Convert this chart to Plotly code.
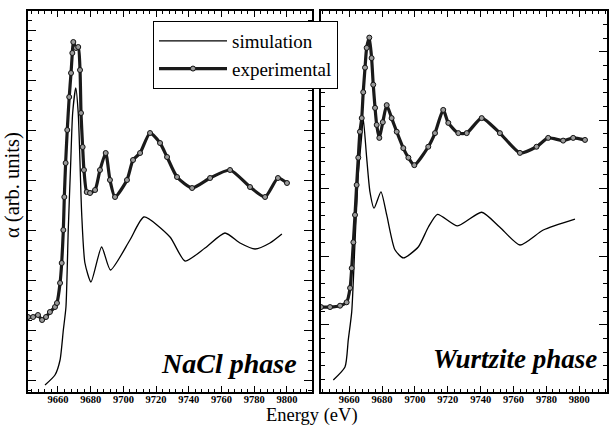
import plotly.graph_objects as go

# ---------------- data (energy in eV, absorption in arb. units) ----------------
nacl_sim_E = [9652.1, 9658.2, 9661.3, 9663.3, 9664.9, 9666.3, 9667.8, 9669.0, 9670.9,
              9672.4, 9673.5, 9674.5, 9676.5, 9680.2, 9686.7, 9692.1, 9704.0, 9712.6,
              9728.5, 9737.7, 9749.9, 9762.1, 9771.3, 9780.5, 9789.6, 9796.9]
nacl_sim_a = [-0.10, 0.10, 0.40, 1.00, 1.46, 3.00, 4.34, 5.34, 5.84,
              5.34, 4.34, 3.34, 2.34, 1.96, 2.66, 2.20, 2.80, 3.26,
              2.86, 2.38, 2.64, 2.94, 2.74, 2.62, 2.74, 2.92]

nacl_exp_E = [9641.7, 9644.8, 9647.8, 9650.3, 9652.7, 9655.1, 9658.2, 9659.4, 9661.3,
              9662.3, 9663.3, 9663.9, 9664.7, 9665.7, 9666.9, 9668.0, 9668.8, 9669.4,
              9671.0, 9672.4, 9673.5, 9674.1, 9675.1, 9675.9, 9677.6, 9679.6, 9682.7,
              9685.7, 9689.2, 9691.8, 9694.9, 9702.2, 9705.9, 9710.2, 9716.3, 9722.4,
              9726.7, 9732.8, 9742.0, 9753.0, 9765.2, 9777.4, 9786.6, 9794.5, 9800.0]
nacl_exp_a = [1.26, 1.26, 1.30, 1.20, 1.26, 1.36, 1.46, 1.54, 1.94,
              2.34, 3.00, 3.66, 4.34, 5.00, 5.66, 6.14, 6.54, 6.76,
              6.64, 6.66, 6.20, 5.34, 4.66, 4.20, 3.76, 3.74, 3.80,
              4.20, 4.54, 4.00, 3.66, 4.00, 4.40, 4.54, 4.94, 4.74,
              4.46, 4.06, 3.84, 4.04, 4.20, 3.86, 3.66, 4.04, 3.94]

wurtz_sim_E = [9650.3, 9657.4, 9659.4, 9661.5, 9663.5, 9665.5, 9667.6, 9668.5, 9670.6,
               9672.6, 9675.1, 9679.3, 9682.8, 9687.8, 9692.9, 9702.0, 9708.1, 9713.7,
               9725.9, 9740.6, 9751.7, 9763.9, 9778.1, 9797.4]
wurtz_sim_a = [0.19, 0.38, 0.78, 1.19, 2.21, 3.20, 3.78, 4.03, 3.45,
               2.95, 2.71, 2.95, 2.61, 2.10, 1.98, 2.14, 2.43, 2.62,
               2.45, 2.65, 2.43, 2.17, 2.39, 2.55]

wurtz_exp_E = [9642.8, 9648.3, 9654.4, 9658.4, 9660.5, 9661.5, 9662.5, 9663.5, 9664.5,
               9665.5, 9666.5, 9667.6, 9668.5, 9669.6, 9670.6, 9672.2, 9673.6, 9674.6,
               9675.7, 9676.7, 9678.3, 9680.4, 9682.8, 9685.8, 9688.9, 9692.9, 9696.0,
               9699.6, 9708.1, 9712.2, 9717.2, 9720.3, 9726.4, 9731.5, 9740.6, 9751.7,
               9763.9, 9774.0, 9781.1, 9790.2, 9796.3, 9803.5]
wurtz_exp_a = [1.26, 1.26, 1.28, 1.33, 1.54, 1.83, 2.21, 2.61, 3.05,
               3.45, 3.83, 4.03, 4.41, 4.77, 5.06, 5.21, 4.91, 4.52,
               4.18, 3.93, 3.74, 3.97, 4.22, 4.03, 3.83, 3.59, 3.45,
               3.34, 3.61, 3.81, 4.15, 3.96, 3.81, 3.81, 4.03, 3.81,
               3.52, 3.61, 3.74, 3.70, 3.74, 3.71]

x_tick_vals = [9660, 9680, 9700, 9720, 9740, 9760, 9780, 9800]
x_tick_text = ["9660", "9680", "9700", "9720", "9740", "9760", "9780", "9800"]
series_names = ["simulation", "experimental"]
panel_labels = ["NaCl phase", "Wurtzite phase"]
x_title = "Energy (eV)"
y_title = "α (arb. units)"

# ---------------- styling ----------------
W, H = 609, 427
SERIF = "Liberation Serif, Times New Roman, serif"

def px(v):
    return v / W

def py(v):
    return (H - v) / H

sim_line = dict(color="black", width=1.3, shape="spline", smoothing=0.6)
exp_line = dict(color="#1a1a1a", width=3.2, shape="spline", smoothing=0.6)
exp_marker = dict(symbol="circle", size=5, color="#9a9a9a",
                  line=dict(color="#111111", width=1))

fig = go.Figure()

fig.add_trace(go.Scatter(x=nacl_sim_E, y=nacl_sim_a, mode="lines", name=series_names[0],
                         line=sim_line, xaxis="x", yaxis="y", showlegend=True))
fig.add_trace(go.Scatter(x=nacl_exp_E, y=nacl_exp_a, mode="lines+markers", name=series_names[1],
                         line=exp_line, marker=exp_marker, xaxis="x", yaxis="y", showlegend=True))
fig.add_trace(go.Scatter(x=wurtz_sim_E, y=wurtz_sim_a, mode="lines", name=series_names[0],
                         line=sim_line, xaxis="x2", yaxis="y2", showlegend=False))
fig.add_trace(go.Scatter(x=wurtz_exp_E, y=wurtz_exp_a, mode="lines+markers", name=series_names[1],
                         line=exp_line, marker=exp_marker, xaxis="x2", yaxis="y2", showlegend=False))

xcommon = dict(showgrid=False, zeroline=False, showline=True, linecolor="black", linewidth=1.5,
               mirror="ticks", ticks="inside", ticklen=6, tickwidth=1.2, tickcolor="black",
               tickmode="array", tickvals=x_tick_vals, ticktext=x_tick_text,
               ticklabelstandoff=-3,
               tickfont=dict(family=SERIF, size=10.5, color="black", weight="bold"),
               minor=dict(ticks="inside", ticklen=3, tickwidth=1, tickcolor="black",
                          dtick=4, tick0=9660, showgrid=False))
ycommon = dict(showgrid=False, zeroline=False, showline=True, linecolor="black", linewidth=1.5,
               mirror="ticks", ticks="inside", ticklen=8, tickwidth=1.2, tickcolor="black",
               showticklabels=False, dtick=1, tick0=0,
               minor=dict(ticks="inside", ticklen=4, tickwidth=1, tickcolor="black",
                          dtick=0.2, showgrid=False))

fig.update_layout(
    width=W, height=H,
    margin=dict(l=0, r=0, t=0, b=0),
    paper_bgcolor="white", plot_bgcolor="white",
    font=dict(family=SERIF, color="black"),
    xaxis=dict(xcommon, domain=[px(28), px(312)], range=[9641.7, 9815.3], anchor="y"),
    yaxis=dict(ycommon, domain=[py(392), py(11)], range=[-0.24, 7.38], anchor="x"),
    xaxis2=dict(xcommon, domain=[px(321), px(607)], range=[9642.8, 9816.9], anchor="y2"),
    yaxis2=dict(ycommon, domain=[py(392), py(11)], range=[0.015, 5.60], anchor="x2"),
    legend=dict(x=px(153), y=py(21), xanchor="left", yanchor="top",
                bgcolor="white", bordercolor="black", borderwidth=1,
                font=dict(family=SERIF, size=19, color="black"),
                itemwidth=68, tracegroupgap=0),
    annotations=[
        dict(text=panel_labels[0], xref="paper", yref="paper", x=px(299), y=py(363),
             xanchor="right", yanchor="middle", showarrow=False,
             font=dict(family=SERIF, size=28, color="black", weight="bold", style="italic")),
        dict(text=panel_labels[1], xref="paper", yref="paper", x=px(599), y=py(359),
             xanchor="right", yanchor="middle", showarrow=False,
             font=dict(family=SERIF, size=27, color="black", weight="bold", style="italic")),
        dict(text=x_title, xref="paper", yref="paper", x=px(312), y=py(427),
             xanchor="center", yanchor="bottom", showarrow=False, borderpad=0,
             font=dict(family=SERIF, size=18.5, color="black")),
        dict(text=y_title, xref="paper", yref="paper", x=px(12), y=py(185),
             xanchor="center", yanchor="middle", showarrow=False, textangle=-90,
             font=dict(family=SERIF, size=20.5, color="black")),
    ],
)

fig.write_html("out.html")
